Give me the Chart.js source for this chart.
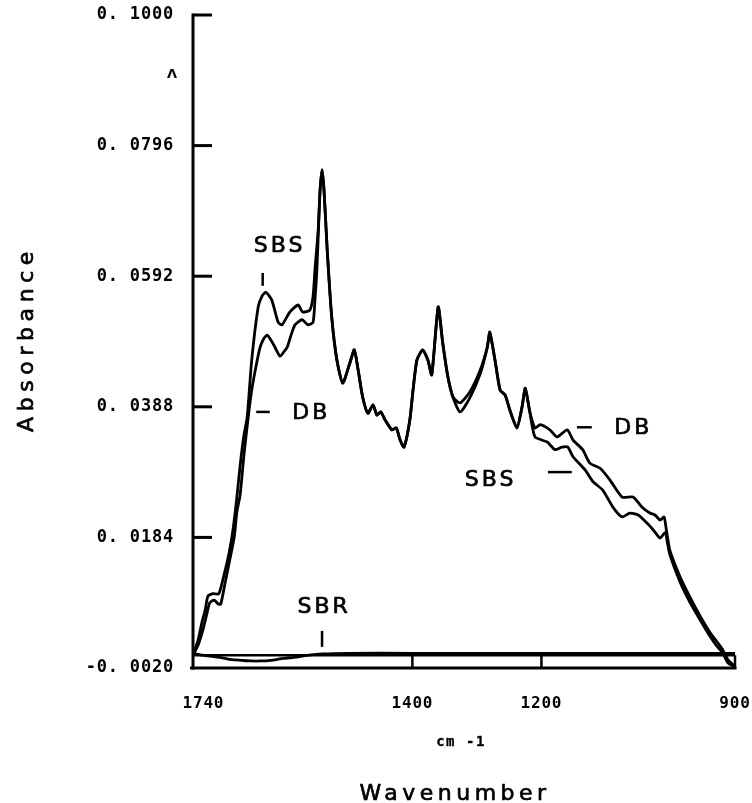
<!DOCTYPE html>
<html>
<head>
<meta charset="utf-8">
<script src="https://cdn.jsdelivr.net/npm/chart.js@4/dist/chart.umd.min.js"></script>
<style>
html,body{margin:0;padding:0;background:#fff;}
#wrap{width:752px;height:803px;position:relative;}
</style>
</head>
<body>
<div id="wrap"><canvas id="c" width="752" height="803"></canvas></div>
<script>
// ---- axis ticks ----
const xTicks = [1740, 1400, 1200, 900];
const yTicks = [-0.0020, 0.0184, 0.0388, 0.0592, 0.0796, 0.1000];
const yTickLabels = ['-0. 0020', '0. 0184', '0. 0388', '0. 0592', '0. 0796', '0. 1000'];

// ---- SBS spectrum ----
const sbsWavenumber = [1740,1732,1726,1721,1717,1709,1700,1692,1684,1678,1672,1666,1661,1656,1649,1639,1633,1627,1618,1608,1602,1590,1577,1570,1559,1554,1551,1546,1543,1540,1537,1532,1525,1517,1508,1497,1490,1484,1477,1469,1461,1455,1449,1442,1432,1425,1419,1413,1404,1399,1393,1384,1376,1370,1360,1353,1345,1337,1326,1311,1295,1284,1280,1272,1264,1256,1249,1238,1230,1225,1218,1210,1191,1179,1168,1159,1151,1132,1120,1105,1089,1075,1063,1050,1036,1027,1016,1008,1005,1001,985,970,954,939,928,920,911,903,900];
const sbsAbsorbance = [0.0000,0.0024,0.0052,0.0071,0.0092,0.0096,0.0096,0.0125,0.0160,0.0196,0.0247,0.0305,0.0344,0.0372,0.0461,0.0544,0.0561,0.0567,0.0555,0.0520,0.0516,0.0536,0.0547,0.0536,0.0539,0.0560,0.0602,0.0664,0.0727,0.0758,0.0727,0.0633,0.0528,0.0461,0.0425,0.0456,0.0477,0.0445,0.0403,0.0378,0.0391,0.0375,0.0380,0.0367,0.0352,0.0355,0.0336,0.0325,0.0367,0.0414,0.0461,0.0477,0.0461,0.0438,0.0544,0.0488,0.0435,0.0403,0.0394,0.0411,0.0445,0.0481,0.0505,0.0461,0.0414,0.0406,0.0383,0.0355,0.0388,0.0417,0.0380,0.0341,0.0333,0.0321,0.0325,0.0325,0.0310,0.0289,0.0271,0.0258,0.0231,0.0216,0.0222,0.0219,0.0206,0.0196,0.0183,0.0192,0.0177,0.0157,0.0114,0.0083,0.0055,0.0030,0.0014,0.0005,-0.0012,-0.0017,-0.0020];

// ---- DB spectrum ----
const dbWavenumber = [1740,1732,1724,1718,1714,1707,1701,1697,1690,1683,1676,1672,1667,1661,1655,1649,1642,1636,1630,1625,1619,1613,1605,1599,1594,1588,1582,1571,1562,1554,1551,1548,1545,1543,1540,1537,1532,1525,1517,1508,1497,1490,1484,1477,1469,1461,1455,1449,1442,1432,1425,1419,1413,1404,1399,1393,1384,1376,1370,1360,1353,1345,1337,1326,1311,1295,1284,1280,1272,1264,1256,1249,1238,1230,1225,1218,1210,1202,1187,1176,1160,1151,1136,1125,1109,1094,1075,1058,1044,1032,1024,1016,1010,1007,1001,985,970,954,939,928,920,911,903,900];
const dbAbsorbance = [0.0000,0.0016,0.0042,0.0067,0.0082,0.0086,0.0080,0.0080,0.0114,0.0149,0.0185,0.0224,0.0250,0.0313,0.0367,0.0414,0.0453,0.0481,0.0495,0.0500,0.0492,0.0481,0.0467,0.0474,0.0481,0.0500,0.0516,0.0524,0.0516,0.0520,0.0555,0.0602,0.0680,0.0727,0.0758,0.0727,0.0633,0.0528,0.0461,0.0425,0.0456,0.0477,0.0445,0.0403,0.0378,0.0391,0.0375,0.0380,0.0367,0.0352,0.0355,0.0336,0.0325,0.0367,0.0414,0.0461,0.0477,0.0461,0.0438,0.0544,0.0488,0.0435,0.0403,0.0380,0.0402,0.0439,0.0480,0.0503,0.0461,0.0414,0.0406,0.0383,0.0355,0.0388,0.0417,0.0380,0.0355,0.0360,0.0352,0.0341,0.0352,0.0336,0.0321,0.0300,0.0292,0.0274,0.0247,0.0247,0.0231,0.0222,0.0219,0.0211,0.0216,0.0200,0.0164,0.0122,0.0091,0.0061,0.0036,0.0021,0.0010,-0.0007,-0.0015,-0.0020];

// ---- SBR spectrum ----
const sbrWavenumber = [1740,1725,1710,1695,1680,1665,1650,1635,1620,1600,1580,1560,1540,1500,1400,1300,1200,1100,1000,900];
const sbrAbsorbance = [0.0003,0.0000,-0.0002,-0.0004,-0.0007,-0.0008,-0.0009,-0.0009,-0.0008,-0.0005,-0.0003,0.0000,0.0002,0.0003,0.0003,0.0003,0.0003,0.0003,0.0003,0.0003];

// ---- labels on the plot (data coordinates) ----
const curveLabels = [
  {text: 'SBS', wn: 1608, abs: 0.0639},
  {text: 'DB',  wn: 1559, abs: 0.0378},
  {text: 'DB',  wn: 1060, abs: 0.0355},
  {text: 'SBS', wn: 1281, abs: 0.0274},
  {text: 'SBR', wn: 1539, abs: 0.0075}
];
const labelMarks = [
  {wn1: 1632, abs1: 0.0597, wn2: 1632, abs2: 0.0577},
  {wn1: 1642, abs1: 0.0380, wn2: 1621, abs2: 0.0380},
  {wn1: 1145, abs1: 0.0356, wn2: 1122, abs2: 0.0356},
  {wn1: 1190, abs1: 0.0286, wn2: 1153, abs2: 0.0286},
  {wn1: 1540, abs1: 0.0038, wn2: 1540, abs2: 0.0013}
];

function pts(xs, ys) { return xs.map((v, i) => ({x: v, y: ys[i]})); }

const lineStyle = {borderColor: '#000', borderWidth: 2.8, pointRadius: 0, tension: 0.2, fill: false};

function penText(ctx, txt, px, py) {
  ctx.fillText(txt, px, py);
  ctx.strokeText(txt, px, py);
}

const framePlugin = {
  id: 'framePlugin',
  beforeDraw(chart) { chart.ctx.letterSpacing = '0.8px'; },
  beforeDatasetsDraw(chart) {
    const {ctx, scales: {x, y}} = chart;
    ctx.save();
    ctx.letterSpacing = '0px';
    ctx.strokeStyle = '#000';
    ctx.lineWidth = 3;
    ctx.lineCap = 'butt';
    const seg = (a, b, c, d) => { ctx.beginPath(); ctx.moveTo(a, b); ctx.lineTo(c, d); ctx.stroke(); };
    const xl = x.getPixelForValue(1740), xr = x.getPixelForValue(900);
    const yt = y.getPixelForValue(0.1), yb = y.getPixelForValue(-0.002), y0 = y.getPixelForValue(0);
    seg(xl, yt - 1.5, xl, yb + 1.5);
    yTicks.forEach(v => { if (v > -0.002) { const p = y.getPixelForValue(v); seg(xl, p, xl + 19, p); } });
    seg(xl - 3, yb, xr + 1.5, yb);
    ctx.lineWidth = 2.5;
    seg(xl, y0, xr, y0);
    seg(xr, y0, xr, yb);
    [1400, 1200].forEach(v => { const p = x.getPixelForValue(v); seg(p, y0, p, yb); });
    ctx.restore();
  },
  afterDraw(chart) {
    const {ctx, scales: {x, y}} = chart;
    ctx.save();
    ctx.fillStyle = '#000';
    ctx.strokeStyle = '#000';
    ctx.textAlign = 'center';
    ctx.textBaseline = 'middle';
    ctx.lineJoin = 'round';
    // curve labels
    ctx.font = '22px "DejaVu Sans"';
    ctx.letterSpacing = '3px';
    ctx.lineWidth = 0.7;
    curveLabels.forEach(l => {
      penText(ctx, l.text, x.getPixelForValue(l.wn) + 1.5, y.getPixelForValue(l.abs));
    });
    ctx.lineWidth = 2.5;
    labelMarks.forEach(m => {
      ctx.beginPath();
      ctx.moveTo(x.getPixelForValue(m.wn1), y.getPixelForValue(m.abs1));
      ctx.lineTo(x.getPixelForValue(m.wn2), y.getPixelForValue(m.abs2));
      ctx.stroke();
    });
    // axis titles
    ctx.lineWidth = 0.7;
    ctx.font = '22px "DejaVu Sans"';
    ctx.letterSpacing = '4.5px';
    penText(ctx, 'Wavenumber', 455, 794);
    ctx.save();
    ctx.translate(27, 342);
    ctx.rotate(-Math.PI / 2);
    ctx.letterSpacing = '5.6px';
    penText(ctx, 'Absorbance', 3, 0);
    ctx.restore();
    ctx.lineWidth = 0.3;
    ctx.font = 'bold 14px "DejaVu Sans Mono"';
    ctx.letterSpacing = '1.5px';
    penText(ctx, 'cm -1', 461, 742);
    ctx.font = 'bold 13px "DejaVu Sans"';
    ctx.letterSpacing = '0px';
    ctx.fillText('\u039B', 172, 75);
    ctx.restore();
  }
};

new Chart(document.getElementById('c'), {
  type: 'line',
  data: {
    datasets: [
      Object.assign({label: 'SBS', data: pts(sbsWavenumber, sbsAbsorbance)}, lineStyle),
      Object.assign({label: 'DB', data: pts(dbWavenumber, dbAbsorbance)}, lineStyle),
      Object.assign({label: 'SBR', data: pts(sbrWavenumber, sbrAbsorbance)}, lineStyle)
    ]
  },
  options: {
    responsive: false,
    animation: false,
    devicePixelRatio: 1,
    layout: {padding: {left: 0, top: 15, right: 17, bottom: 0}},
    plugins: {legend: {display: false}, tooltip: {enabled: false}, title: {display: false}},
    scales: {
      x: {
        type: 'linear', reverse: true, min: 900, max: 1740,
        afterBuildTicks: s => { s.ticks = xTicks.map(v => ({value: v})); },
        afterFit: s => { s.height = 135; },
        grid: {display: true, drawOnChartArea: false, drawTicks: true, tickLength: 24, tickColor: 'rgba(0,0,0,0)'},
        border: {display: false},
        ticks: {
          padding: 2, color: '#000', maxRotation: 0, autoSkip: false,
          font: {family: '"DejaVu Sans Mono"', size: 16, weight: 'bold'},
          callback: v => (v === 1740 ? '  1740' : String(v))
        }
      },
      y: {
        type: 'linear', min: -0.002, max: 0.1,
        afterBuildTicks: s => { s.ticks = yTicks.map(v => ({value: v})); },
        afterFit: s => { s.width = 193; },
        grid: {display: true, drawOnChartArea: false, drawTicks: true, tickLength: 19, tickColor: 'rgba(0,0,0,0)'},
        border: {display: false},
        ticks: {
          padding: 0, color: '#000', autoSkip: false,
          font: {family: '"DejaVu Sans Mono"', size: 17, weight: 'bold'},
          callback: v => { const i = yTicks.findIndex(t => Math.abs(t - v) < 1e-9); return i >= 0 ? yTickLabels[i] : ''; }
        }
      }
    }
  },
  plugins: [framePlugin]
});
</script>
</body>
</html>
